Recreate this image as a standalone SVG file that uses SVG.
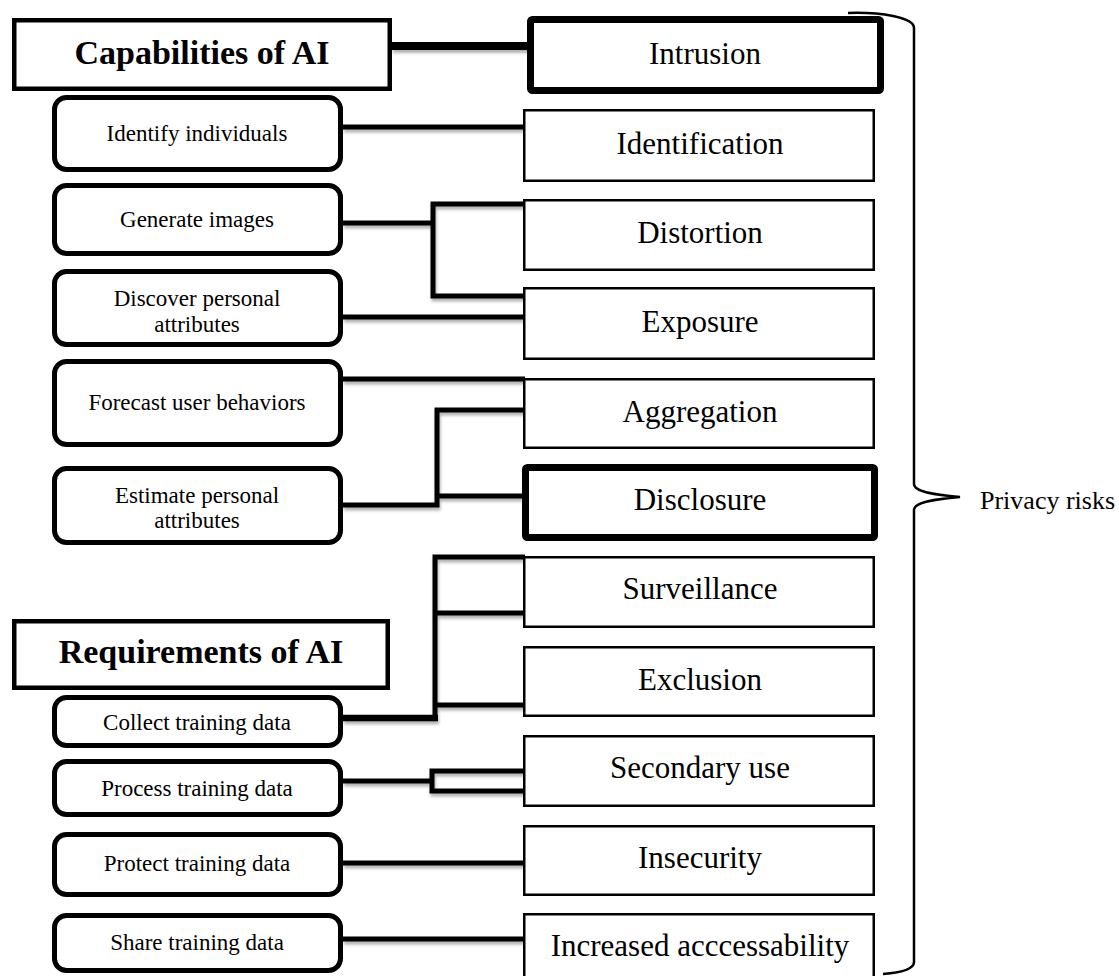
<svg xmlns="http://www.w3.org/2000/svg" width="1119" height="976" viewBox="0 0 1119 976">
  <defs>
    <filter id="lineShadow" filterUnits="userSpaceOnUse" x="0" y="0" width="1119" height="976">
      <feDropShadow dx="1" dy="3" stdDeviation="1.5" flood-color="#000" flood-opacity="0.3"/>
    </filter>
  </defs>
  <style>
    .head { fill: #fff; stroke: #000; stroke-width: 4.5; }
    .cap { fill: #fff; stroke: #000; stroke-width: 5; }
    .risk { fill: #fff; stroke: #000; stroke-width: 2.5; }
    .risk-strong { fill: #fff; stroke: #000; stroke-width: 7; }
    .link { fill: none; stroke: #000; stroke-width: 5; stroke-linecap: butt; stroke-linejoin: miter; }
    text { font-family: "Liberation Serif", "DejaVu Serif", serif; fill: #000; text-anchor: middle; }
    .t-head { font-size: 34px; font-weight: bold; }
    .t-cap { font-size: 23px; }
    .t-risk { font-size: 31px; }
    .t-brace { font-size: 26px; text-anchor: start; }
  </style>
  <rect width="1119" height="976" fill="#fff"/>

  <!-- connectors -->
  <g id="connectors" filter="url(#lineShadow)">
    <path class="link" style="stroke-width:8" d="M392 46 H530"/>
    <path class="link" d="M343 127 H525"/>
    <path class="link" d="M343 223 H433 M525 204 H433 V296 H525"/>
    <path class="link" d="M343 317 H525"/>
    <path class="link" d="M343 379 H525"/>
    <path class="link" d="M343 505 H437 V410 H525 M437 496 H522"/>
    <path class="link" d="M525 557 H435 V718 M435 613 H525 M435 705 H525"/>
    <path class="link" style="stroke-width:6.5" d="M343 718 H438"/>
    <path class="link" d="M343 781 H432 M525 771 H432 V791 H525"/>
    <path class="link" d="M343 863 H525"/>
    <path class="link" d="M343 939 H525"/>
  </g>

  <!-- capabilities column -->
  <g id="capabilities">
    <rect class="head" x="14.25" y="20.25" width="375.5" height="68.5"/>
    <text class="t-head" x="202" y="64">Capabilities of AI</text>
  </g>
  <g id="identify">
    <rect class="cap" x="54.5" y="97.5" width="286" height="72" rx="12"/>
    <text class="t-cap" x="197" y="141">Identify individuals</text>
  </g>
  <g id="generate">
    <rect class="cap" x="54.5" y="185.5" width="286" height="68" rx="12"/>
    <text class="t-cap" x="197" y="227">Generate images</text>
  </g>
  <g id="discover">
    <rect class="cap" x="54.5" y="271.5" width="286" height="73" rx="12"/>
    <text class="t-cap" x="197" y="306">Discover personal</text>
    <text class="t-cap" x="197" y="332">attributes</text>
  </g>
  <g id="forecast">
    <rect class="cap" x="54.5" y="361.5" width="286" height="83" rx="12"/>
    <text class="t-cap" x="197" y="410">Forecast user behaviors</text>
  </g>
  <g id="estimate">
    <rect class="cap" x="54.5" y="468.5" width="286" height="74" rx="12"/>
    <text class="t-cap" x="197" y="503">Estimate personal</text>
    <text class="t-cap" x="197" y="528">attributes</text>
  </g>

  <!-- requirements column -->
  <g id="requirements">
    <rect class="head" x="14.25" y="621.25" width="373.5" height="66.5"/>
    <text class="t-head" x="201" y="663">Requirements of AI</text>
  </g>
  <g id="collect">
    <rect class="cap" x="54.5" y="697.5" width="286" height="48" rx="12"/>
    <text class="t-cap" x="197" y="730">Collect training data</text>
  </g>
  <g id="process">
    <rect class="cap" x="54.5" y="761.5" width="286" height="53" rx="12"/>
    <text class="t-cap" x="197" y="796">Process training data</text>
  </g>
  <g id="protect">
    <rect class="cap" x="54.5" y="834.5" width="286" height="60" rx="12"/>
    <text class="t-cap" x="197" y="871">Protect training data</text>
  </g>
  <g id="share">
    <rect class="cap" x="54.5" y="915.5" width="286" height="55" rx="12"/>
    <text class="t-cap" x="197" y="950">Share training data</text>
  </g>

  <!-- privacy risk column -->
  <g id="intrusion">
    <rect class="risk-strong" x="530.5" y="19.5" width="350" height="71" rx="2"/>
    <text class="t-risk" x="705" y="64">Intrusion</text>
  </g>
  <g id="identification">
    <rect class="risk" x="524.25" y="110.25" width="349.5" height="70.5"/>
    <text class="t-risk" x="700" y="154">Identification</text>
  </g>
  <g id="distortion">
    <rect class="risk" x="524.25" y="200.25" width="349.5" height="69.5"/>
    <text class="t-risk" x="700" y="243">Distortion</text>
  </g>
  <g id="exposure">
    <rect class="risk" x="524.25" y="288.25" width="349.5" height="70.5"/>
    <text class="t-risk" x="700" y="332">Exposure</text>
  </g>
  <g id="aggregation">
    <rect class="risk" x="524.25" y="379.25" width="349.5" height="68.5"/>
    <text class="t-risk" x="700" y="422">Aggregation</text>
  </g>
  <g id="disclosure">
    <rect class="risk-strong" x="525.5" y="467.5" width="349" height="70" rx="2"/>
    <text class="t-risk" x="700" y="510">Disclosure</text>
  </g>
  <g id="surveillance">
    <rect class="risk" x="524.25" y="557.25" width="349.5" height="69.5"/>
    <text class="t-risk" x="700" y="599">Surveillance</text>
  </g>
  <g id="exclusion">
    <rect class="risk" x="524.25" y="647.25" width="349.5" height="68.5"/>
    <text class="t-risk" x="700" y="690">Exclusion</text>
  </g>
  <g id="secondary-use">
    <rect class="risk" x="524.25" y="736.25" width="349.5" height="69.5"/>
    <text class="t-risk" x="700" y="778">Secondary use</text>
  </g>
  <g id="insecurity">
    <rect class="risk" x="524.25" y="826.25" width="349.5" height="68.5"/>
    <text class="t-risk" x="700" y="868">Insecurity</text>
  </g>
  <g id="increased-accessibility">
    <rect class="risk" x="524.25" y="914.25" width="349.5" height="80"/>
    <text class="t-risk" x="700" y="956">Increased acccessability</text>
  </g>

  <!-- brace grouping the risks -->
  <g id="privacy-risks">
    <path d="M848 13 C880 12 914 17 914 28 L914 484 C914 492 936 495 960 497 C936 499 914 502 914 510 L914 962 C914 970 896 973 883 974" fill="none" stroke="#000" stroke-width="2.5"/>
    <text class="t-brace" x="980" y="509">Privacy risks</text>
  </g>
</svg>
